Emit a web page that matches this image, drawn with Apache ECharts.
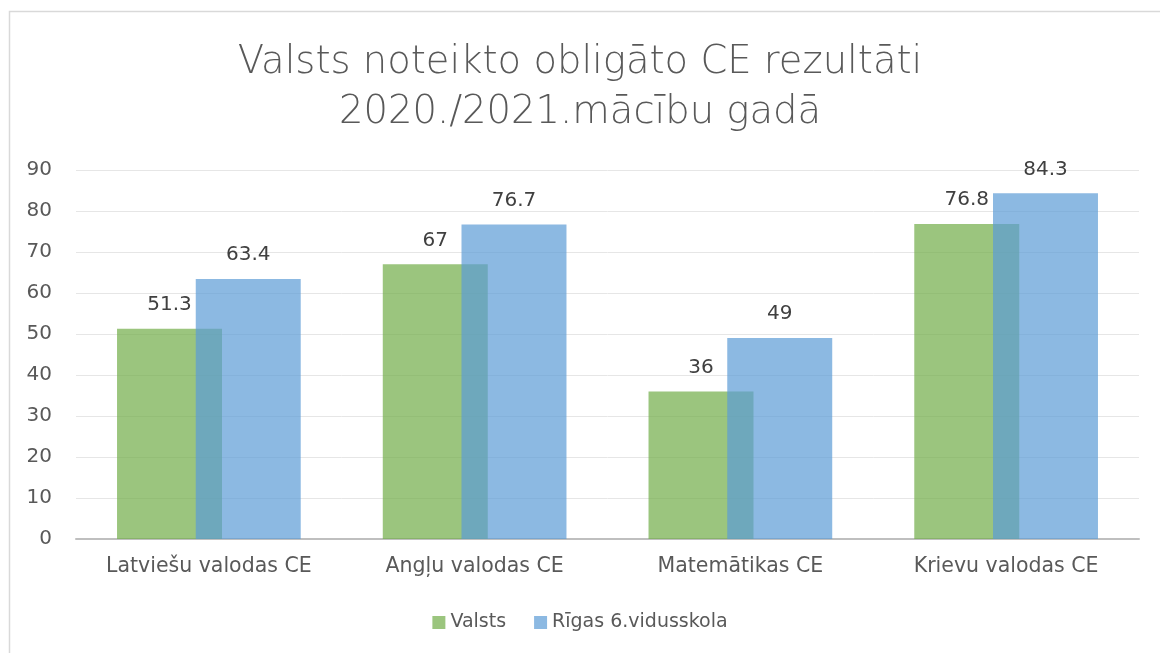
<!DOCTYPE html>
<html><head><meta charset="utf-8">
<script src="https://cdn.jsdelivr.net/npm/echarts@6/dist/echarts.min.js"></script>
<style>html,body{margin:0;padding:0;background:#fff}#c{width:1160px;height:653px}</style>
</head><body><div id="c"></div>
<script>
const categories = ['Latviešu valodas CE', 'Angļu valodas CE', 'Matemātikas CE', 'Krievu valodas CE'];
const valsts = [51.3, 67, 36, 76.8];
const riga = [63.4, 76.7, 49, 84.3];
const seriesNames = ['Valsts', 'Rīgas 6.vidusskola'];
const titleLines = ['Valsts noteikto obligāto CE rezultāti', '2020./2021.mācību gadā'];

const font = '"DejaVu Sans", sans-serif';
const chart = echarts.init(document.getElementById('c'));
chart.setOption({
  animation: false,
  graphic: [{
    type: 'rect', shape: {x: 9.5, y: 11.5, width: 1200, height: 700},
    style: {fill: 'none', stroke: '#d9d9d9', lineWidth: 1.5}, silent: true
  }],
  title: {
    text: titleLines.join('\n'), left: 'center', top: 33,
    textStyle: {fontFamily: font, fontWeight: 200, fontSize: 38.5, color: '#595959', lineHeight: 50}
  },
  legend: {
    bottom: 16, left: 'center', itemWidth: 13, itemHeight: 13, itemGap: 28,
    icon: 'rect',
    textStyle: {fontFamily: font, fontSize: 19, color: '#595959'},
    data: seriesNames
  },
  grid: {left: 76, right: 21, top: 170, bottom: 114, containLabel: false},
  xAxis: {
    type: 'category', data: categories,
    axisLine: {lineStyle: {color: '#bfbfbf', width: 2}},
    axisTick: {show: false},
    axisLabel: {fontFamily: font, fontSize: 20.5, color: '#595959', margin: 17, interval: 0}
  },
  yAxis: {
    type: 'value', min: 0, max: 90, interval: 10,
    axisLine: {show: false}, axisTick: {show: false},
    splitLine: {lineStyle: {color: '#e6e6e6', width: 1}},
    axisLabel: {fontFamily: font, fontSize: 20, color: '#595959', margin: 24}
  },
  series: [
    {
      name: seriesNames[0], type: 'bar', data: valsts,
      barWidth: '39.5%', barGap: '-25%',
      itemStyle: {color: 'rgba(112,173,71,0.7)'},
      label: {show: true, position: 'top', distance: 14, fontFamily: font, fontSize: 20, color: '#404040'}
    },
    {
      name: seriesNames[1], type: 'bar', data: riga,
      barWidth: '39.5%', barGap: '-25%',
      itemStyle: {color: 'rgba(91,155,213,0.7)'},
      label: {show: true, position: 'top', distance: 14, fontFamily: font, fontSize: 20, color: '#404040'}
    }
  ]
});
</script></body></html>
